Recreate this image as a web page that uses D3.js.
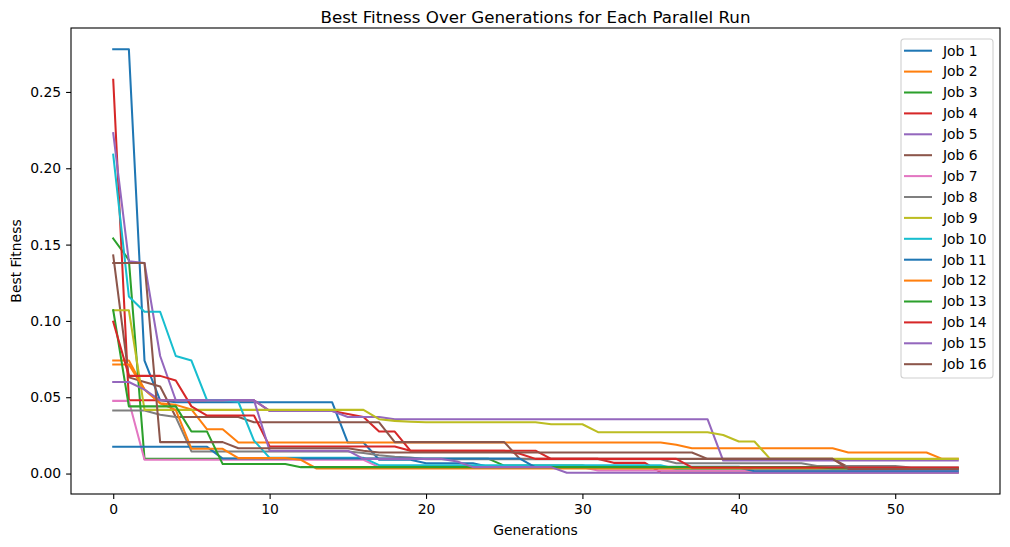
<!DOCTYPE html>
<html>
<head>
<meta charset="utf-8">
<script src="https://d3js.org/d3.v7.min.js"></script>
<style>
  body { margin: 0; background: #fff; }
  text { font-family: "DejaVu Sans", sans-serif; }
</style>
</head>
<body>
<div id="my_dataviz"></div>
<script>
// generations 0..54
var generations = d3.range(0, 55);

// best fitness per job
var job1 = [0.278, 0.278, 0.074, 0.048,
    0.0467, 0.0467, 0.0467, 0.0467, 0.0467, 0.0467, 0.0467, 0.0467, 0.0467, 0.0467, 0.0467,
    0.0203, 0.0203, 0.009, 0.009, 0.009, 0.0068, 0.0068, 0.0068, 0.0068,
    0.0045, 0.0045, 0.0045, 0.0045, 0.0045, 0.0045, 0.0045, 0.0045, 0.0045, 0.0045, 0.0045, 0.0045, 0.0045, 0.0045, 0.0045, 0.0045, 0.0045,
    0.0025, 0.0025, 0.0025, 0.0025, 0.0025, 0.0025, 0.0025, 0.0025, 0.0025, 0.0025, 0.0025, 0.0025, 0.0025, 0.0025];
var job2 = [0.074, 0.074, 0.055, 0.046, 0.045, 0.042, 0.029, 0.029,
    0.0203, 0.0203, 0.0203, 0.0203, 0.0203, 0.0203, 0.0203, 0.0203, 0.0203, 0.0203, 0.0203, 0.0203, 0.0203, 0.0203,
    0.0203, 0.0203, 0.0203, 0.0203, 0.0203, 0.0203, 0.0203, 0.0203, 0.0203, 0.0203, 0.0203, 0.0203, 0.0203, 0.0203,
    0.0188, 0.0166, 0.0166, 0.0166, 0.0166, 0.0166, 0.0166, 0.0166, 0.0166, 0.0166, 0.0166,
    0.0138, 0.0138, 0.0138, 0.0138, 0.0138, 0.0138, 0.0096, 0.0096];
var job3 = [0.154, 0.14,
    0.0096, 0.0096, 0.0096, 0.0096, 0.0096, 0.0096, 0.0096, 0.0096, 0.0096, 0.0096, 0.0096, 0.0096,
    0.0096, 0.0096, 0.0096, 0.0096, 0.0096, 0.0096, 0.0096, 0.0096, 0.0096, 0.0096, 0.0096,
    0.0052, 0.0052, 0.0052, 0.0052, 0.0052, 0.0052,
    0.0035, 0.0035, 0.0035, 0.0035, 0.0035, 0.0035, 0.0035, 0.0035, 0.0035, 0.0035, 0.0035, 0.0035,
    0.0035, 0.0035, 0.0035, 0.0035, 0.0035, 0.0035, 0.0035,
    0.0025, 0.0025, 0.0025, 0.0025, 0.0025];
var job4 = [0.258, 0.048, 0.048, 0.048, 0.048, 0.048, 0.048, 0.048, 0.048, 0.048,
    0.041, 0.041, 0.041, 0.041, 0.041, 0.039, 0.037, 0.0275, 0.0275,
    0.015, 0.015, 0.015, 0.015, 0.015, 0.015, 0.015, 0.015, 0.015,
    0.0096, 0.0096, 0.0096, 0.0096, 0.007, 0.007, 0.007,
    0.0007, 0.0007, 0.0007, 0.0007, 0.0007, 0.0007, 0.0007, 0.0007, 0.0007, 0.0007,
    0.0007, 0.0007, 0.0007, 0.0007, 0.0007, 0.0007, 0.0007, 0.0007, 0.0007, 0.0007];
var job5 = [0.223, 0.139, 0.138, 0.077, 0.048, 0.048, 0.048, 0.048, 0.048, 0.048,
    0.041, 0.041, 0.041, 0.041, 0.041, 0.037, 0.037, 0.037,
    0.0356, 0.0356, 0.0356, 0.0356, 0.0356, 0.0356, 0.0356, 0.0356, 0.0356, 0.0356, 0.0356,
    0.0356, 0.0356, 0.0356, 0.0356, 0.0356, 0.0356, 0.0356, 0.0356, 0.0356, 0.0356,
    0.0085, 0.0085, 0.0085, 0.0085, 0.0085, 0.0085, 0.0085, 0.0085, 0.0085, 0.0085,
    0.0085, 0.0085, 0.0085, 0.0085, 0.0085, 0.0085];
var job6 = [0.143, 0.063, 0.060, 0.057, 0.037, 0.037, 0.037, 0.037, 0.037,
    0.0336, 0.0336, 0.0336, 0.0336, 0.0336, 0.0336, 0.0336, 0.0336, 0.0336,
    0.0206, 0.0206, 0.0206, 0.0206, 0.0206, 0.0206, 0.0206, 0.0206,
    0.0096, 0.0096, 0.0096, 0.0096, 0.0096, 0.0096, 0.0096, 0.0096, 0.0096, 0.0096, 0.0096,
    0.0096, 0.0096, 0.0096, 0.0096, 0.0096, 0.0096, 0.0096, 0.0096, 0.0096, 0.0096,
    0.0042, 0.0042, 0.0025, 0.0025, 0.0025, 0.0025, 0.0025, 0.0025];
var job7 = [0.0476, 0.0476,
    0.009, 0.009, 0.009, 0.009, 0.009, 0.009, 0.009, 0.009, 0.009, 0.009, 0.009, 0.009, 0.009, 0.009, 0.009,
    0.0042, 0.0042, 0.0042, 0.0042, 0.0042, 0.0042, 0.0042, 0.0042, 0.0042, 0.0042, 0.0042, 0.0042, 0.0042, 0.0042,
    0.002, 0.002, 0.002, 0.002, 0.002, 0.002, 0.002, 0.002, 0.002, 0.002, 0.002, 0.002,
    0.002, 0.002, 0.002, 0.002, 0.002, 0.002, 0.002, 0.002, 0.002, 0.002, 0.002, 0.002];
var job8 = [0.0413, 0.0413, 0.0413, 0.0385, 0.037,
    0.0145, 0.0145, 0.0145, 0.0145, 0.0145, 0.0145, 0.0145, 0.0145, 0.0145, 0.0145, 0.0145,
    0.0135, 0.012, 0.011, 0.0105,
    0.0094, 0.0094, 0.0094, 0.0094, 0.0094, 0.0094, 0.0094, 0.0094, 0.0094, 0.0094, 0.0094, 0.0094, 0.0094, 0.0094, 0.0094, 0.0094,
    0.0068, 0.0068, 0.0068, 0.0068, 0.0068, 0.0068, 0.0068, 0.0068, 0.0068,
    0.005, 0.005, 0.005, 0.005, 0.005, 0.005, 0.004, 0.004, 0.004, 0.004];
var job9 = [0.107, 0.107,
    0.0417, 0.0417, 0.0417, 0.0417, 0.0417, 0.0417, 0.0417, 0.0417, 0.0417, 0.0417, 0.0417, 0.0417, 0.0417, 0.0417, 0.0417,
    0.0356, 0.0345, 0.034,
    0.0336, 0.0336, 0.0336, 0.0336, 0.0336, 0.0336, 0.0336, 0.0336,
    0.0323, 0.0323, 0.0323,
    0.0271, 0.0271, 0.0271, 0.0271, 0.0271, 0.0271, 0.0271, 0.0271,
    0.0253, 0.021, 0.021,
    0.0096, 0.0096, 0.0096, 0.0096, 0.0096, 0.0096, 0.0096, 0.0096, 0.0096, 0.0096, 0.0096, 0.0096, 0.0096];
var job10 = [0.209, 0.116, 0.106, 0.106, 0.077, 0.074, 0.048, 0.048, 0.047, 0.0216,
    0.0103, 0.0103, 0.0103, 0.0103, 0.0103, 0.0103, 0.0103,
    0.0055, 0.0055, 0.0055, 0.0055, 0.0055, 0.0055, 0.0055, 0.0055, 0.0055, 0.0055,
    0.0055, 0.0055, 0.0055, 0.0055, 0.0055, 0.0055, 0.0055, 0.0055, 0.0055,
    0.003, 0.003, 0.003, 0.003, 0.003, 0.003, 0.003, 0.003, 0.003, 0.003,
    0.003, 0.003, 0.003, 0.003, 0.003, 0.003, 0.003, 0.003, 0.003];
var job11 = [0.0175, 0.0175, 0.0175, 0.0175, 0.0175, 0.0175, 0.0175,
    0.0098, 0.0098, 0.0098, 0.0098, 0.0098, 0.0098, 0.0098, 0.0098, 0.0098, 0.0098,
    0.0098, 0.0098, 0.0098, 0.0098, 0.0098, 0.0098, 0.0098, 0.0098, 0.0098, 0.0098,
    0.004, 0.004, 0.004, 0.004, 0.004, 0.004, 0.004, 0.004, 0.004, 0.004, 0.004, 0.004, 0.004, 0.004,
    0.0015, 0.0015, 0.0015, 0.0015, 0.0015, 0.0015, 0.0015, 0.0015, 0.0015, 0.0015, 0.0015, 0.0015, 0.0015, 0.0015];
var job12 = [0.0715, 0.0715, 0.055, 0.046, 0.0417, 0.0162, 0.0162, 0.0162,
    0.0101, 0.0101, 0.0101, 0.0101, 0.009,
    0.0033, 0.0033, 0.0033, 0.0033, 0.0033, 0.0033, 0.0033, 0.0033, 0.0033, 0.0033,
    0.0033, 0.0033, 0.0033, 0.0033, 0.0033, 0.0033, 0.0033, 0.0033, 0.0033, 0.0033,
    0.0033, 0.0033, 0.0033, 0.0033, 0.0033, 0.0033, 0.0033, 0.0033, 0.0033, 0.0033,
    0.0033, 0.0033, 0.0033, 0.0033, 0.0033, 0.0033, 0.0033, 0.0033, 0.0033, 0.0033, 0.0033, 0.0033];
var job13 = [0.107, 0.044, 0.044, 0.044, 0.044, 0.0275, 0.0275,
    0.0062, 0.0062, 0.0062, 0.0062, 0.0062,
    0.0042, 0.0042, 0.0042, 0.0042, 0.0042, 0.0042, 0.0042, 0.0042, 0.0042, 0.0042,
    0.0042, 0.0042, 0.0042, 0.0042, 0.0042, 0.0042, 0.0042, 0.0042, 0.0042, 0.0042,
    0.0042, 0.0042, 0.0042, 0.0042, 0.0042, 0.0042, 0.0042, 0.0042, 0.0042, 0.0042,
    0.0042, 0.0042, 0.0042, 0.0042,
    0.0035, 0.0035, 0.0035, 0.0035, 0.0035, 0.0035, 0.0035, 0.0035, 0.0035];
var job14 = [0.0995, 0.064, 0.064, 0.064, 0.061, 0.044, 0.038, 0.038, 0.038, 0.038,
    0.0177, 0.0177, 0.0177, 0.0177, 0.0177, 0.0177, 0.0177, 0.0177, 0.0177,
    0.0149, 0.0149, 0.0149, 0.0149, 0.0149, 0.0149, 0.0149, 0.013,
    0.0096, 0.0096, 0.0096, 0.0096, 0.0096, 0.0096, 0.0096, 0.0096, 0.0096, 0.0096,
    0.004, 0.004, 0.004, 0.004, 0.004, 0.004, 0.004, 0.004, 0.004,
    0.004, 0.004, 0.004, 0.004, 0.004, 0.004, 0.004, 0.004, 0.004];
var job15 = [0.060, 0.060, 0.055, 0.048, 0.048, 0.048, 0.048, 0.048, 0.048, 0.048,
    0.015, 0.015, 0.015, 0.015, 0.015, 0.015,
    0.0096, 0.0096, 0.0096, 0.0096, 0.0096, 0.0096, 0.0079,
    0.0042, 0.0042, 0.0042, 0.0042, 0.0042, 0.0042,
    0.0005, 0.0005, 0.0005, 0.0005, 0.0005, 0.0005, 0.0005, 0.0005, 0.0005, 0.0005, 0.0005, 0.0005, 0.0005,
    0.0005, 0.0005, 0.0005, 0.0005, 0.0005, 0.0005, 0.0005, 0.0005, 0.0005, 0.0005, 0.0005, 0.0005, 0.0005];
var job16 = [0.138, 0.138, 0.138, 0.0206, 0.0206, 0.0206, 0.0206, 0.0206,
    0.0166, 0.0166, 0.0166, 0.0166, 0.0166, 0.0166, 0.0166, 0.0166, 0.015,
    0.0138, 0.0138, 0.0138, 0.0138, 0.0138, 0.0138, 0.0138, 0.0138, 0.0138, 0.0138, 0.0138,
    0.0138, 0.0138, 0.0138, 0.0138, 0.0138, 0.0138, 0.0138, 0.0138, 0.0138, 0.0138,
    0.0096, 0.0096, 0.0096, 0.0096, 0.0096, 0.0096, 0.0096, 0.0096, 0.0096,
    0.003, 0.003, 0.003, 0.003, 0.003, 0.003, 0.003, 0.003];

var jobNames = ["Job 1", "Job 2", "Job 3", "Job 4", "Job 5", "Job 6", "Job 7", "Job 8",
    "Job 9", "Job 10", "Job 11", "Job 12", "Job 13", "Job 14", "Job 15", "Job 16"];
var jobValues = [job1, job2, job3, job4, job5, job6, job7, job8,
    job9, job10, job11, job12, job13, job14, job15, job16];
var xTicks = [0, 10, 20, 30, 40, 50];
var yTicks = [0, 0.05, 0.10, 0.15, 0.20, 0.25];

// matplotlib tab10 cycle
var colors = ["#1f77b4", "#ff7f0e", "#2ca02c", "#d62728", "#9467bd",
    "#8c564b", "#e377c2", "#7f7f7f", "#bcbd22", "#17becf"];

var series = jobNames.map(function (name, i) {
    return {
        name: name,
        color: colors[i % 10],
        values: generations.map(function (g) { return { gen: g, fit: jobValues[i][g] }; })
    };
});

// set the dimensions and margins of the graph
var margin = { top: 28, right: 10, bottom: 53, left: 71 },
    width = 1010 - margin.left - margin.right,
    height = 547 - margin.top - margin.bottom;

var root = d3.select("#my_dataviz")
    .append("svg")
    .attr("width", 1010)
    .attr("height", 547);

var svg = root.append("g")
    .attr("transform", "translate(" + margin.left + "," + margin.top + ")");

var x = d3.scaleLinear()
    .domain([-2.7, 56.7])
    .range([0, width]);

var y = d3.scaleLinear()
    .domain([-0.0134, 0.2919])
    .range([height, 0]);

// X axis
var xAxis = svg.append("g")
    .attr("transform", "translate(0," + height + ")")
    .call(d3.axisBottom(x).tickValues(xTicks).tickFormat(d3.format("d")).tickSize(4.9).tickPadding(4.9));

// Y axis
var yAxis = svg.append("g")
    .call(d3.axisLeft(y).tickValues(yTicks).tickFormat(d3.format(".2f")).tickSize(4.9).tickPadding(4.9));

[xAxis, yAxis].forEach(function (ax) {
    ax.select(".domain").remove();
    ax.selectAll("text")
        .attr("font-family", "DejaVu Sans, sans-serif")
        .attr("font-size", 13.9)
        .attr("fill", "#000");
    ax.selectAll("line").attr("stroke", "#000").attr("stroke-width", 1.1);
});

// the lines
var line = d3.line()
    .x(function (d) { return x(d.gen); })
    .y(function (d) { return y(d.fit); });

svg.append("g")
    .selectAll("path")
    .data(series)
    .enter()
    .append("path")
    .attr("fill", "none")
    .attr("stroke", function (d) { return d.color; })
    .attr("stroke-width", 2.05)
    .attr("stroke-linejoin", "round")
    .attr("stroke-linecap", "square")
    .attr("d", function (d) { return line(d.values); });

// frame
svg.append("rect")
    .attr("x", 0)
    .attr("y", 0)
    .attr("width", width)
    .attr("height", height)
    .attr("fill", "none")
    .attr("stroke", "#000")
    .attr("stroke-width", 1.1);

// title and labels
root.append("text")
    .attr("x", margin.left + width / 2)
    .attr("y", 23)
    .attr("text-anchor", "middle")
    .attr("font-size", 16.7)
    .text("Best Fitness Over Generations for Each Parallel Run");

root.append("text")
    .attr("x", margin.left + width / 2)
    .attr("y", 535)
    .attr("text-anchor", "middle")
    .attr("font-size", 13.9)
    .text("Generations");

root.append("text")
    .attr("transform", "translate(21," + (margin.top + height / 2) + ") rotate(-90)")
    .attr("text-anchor", "middle")
    .attr("font-size", 13.9)
    .text("Best Fitness");

// legend
var legend = root.append("g")
    .attr("transform", "translate(901,39)");

legend.append("rect")
    .attr("width", 92)
    .attr("height", 339)
    .attr("rx", 3)
    .attr("fill", "#fff")
    .attr("fill-opacity", 0.8)
    .attr("stroke", "#d0d0d0")
    .attr("stroke-width", 1.1);

var rows = legend.selectAll(".row")
    .data(series)
    .enter()
    .append("g")
    .attr("class", "row")
    .attr("transform", function (d, i) { return "translate(0," + (11.7 + i * 20.9) + ")"; });

rows.append("line")
    .attr("x1", 3)
    .attr("x2", 31)
    .attr("stroke", function (d) { return d.color; })
    .attr("stroke-width", 2.05);

rows.append("text")
    .attr("x", 42)
    .attr("dy", "0.35em")
    .attr("font-size", 13.9)
    .text(function (d) { return d.name; });
</script>
</body>
</html>
